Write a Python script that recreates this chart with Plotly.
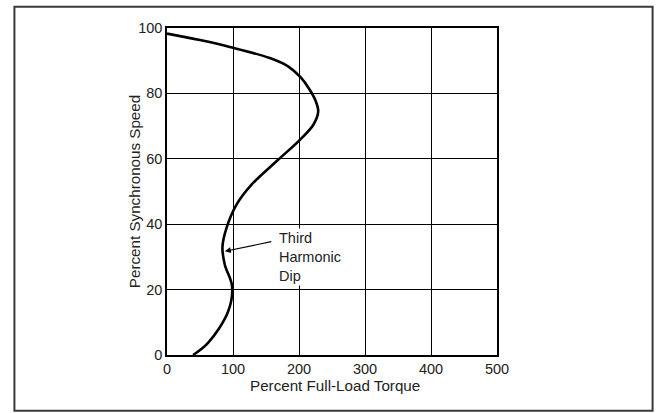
import plotly.graph_objects as go

# Speed-torque curve (torque %, speed %)
torque = [0, 50, 95, 155.8, 184, 203, 216, 225, 229.1, 222, 201.4, 168.4, 128.1,
          105.3, 90.1, 84, 87.6, 98.6, 92.6, 62.2, 39.5]
speed = [98.3, 96.3, 94.2, 90.8, 88.2, 84.8, 81.2, 77.8, 74.5, 70.5, 65.8, 59.7, 52.1,
         46.0, 38.8, 33.0, 27.6, 21.0, 13.3, 3.7, 0]

x_ticks = [0, 100, 200, 300, 400, 500]
y_ticks = [0, 20, 40, 60, 80, 100]
x_title = "Percent Full-Load Torque"
y_title = "Percent Synchronous Speed"
note_text = "Third<br>Harmonic<br>Dip"

FONT = "Liberation Sans, Arial, sans-serif"
TXT = "#222"

fig = go.Figure()
fig.add_trace(go.Scatter(
    x=torque, y=speed, mode="lines",
    line=dict(color="black", width=2.6, shape="spline", smoothing=1.0),
    hoverinfo="skip", showlegend=False,
))

W, H = 658, 413
L, R, T, B = 167.3, 161.3, 28.3, 57.7
pw, ph = W - L - R, H - T - B

fig.update_layout(
    width=W, height=H,
    margin=dict(l=L, r=R, t=T, b=B, pad=0, autoexpand=False),
    paper_bgcolor="white", plot_bgcolor="white",
    font=dict(family=FONT, size=14.5, color=TXT),
    showlegend=False,
)
fig.update_xaxes(
    range=[0, 500], tickvals=x_ticks, ticktext=[str(v) for v in x_ticks],
    showgrid=True, gridcolor="black", gridwidth=1,
    showline=True, linecolor="black", linewidth=1.5, mirror=True,
    zeroline=False, ticks="", tickfont=dict(size=14.5, color=TXT), automargin=False,
)
fig.update_yaxes(
    range=[0, 100], tickvals=y_ticks, ticktext=[str(v) for v in y_ticks],
    showgrid=True, gridcolor="black", gridwidth=1,
    showline=True, linecolor="black", linewidth=1.5, mirror=True,
    zeroline=False, ticks="", tickfont=dict(size=14.5, color=TXT), automargin=False,
)

# axis titles placed as in the reference
fig.add_annotation(x=0.51, y=(H - B - 386) / ph, xref="paper", yref="paper",
                   text=x_title, showarrow=False, xanchor="center", yanchor="middle",
                   font=dict(family=FONT, size=15.2, color=TXT))
fig.add_annotation(x=(135 - L) / pw, y=0.5, xref="paper", yref="paper",
                   text=y_title, showarrow=False, textangle=-90,
                   xanchor="center", yanchor="middle",
                   font=dict(family=FONT, size=15.2, color=TXT))

# text of the callout (white background hides the grid behind it)
fig.add_annotation(
    x=166, y=30, xref="x", yref="y", text=note_text, showarrow=False,
    xanchor="left", yanchor="middle", align="left",
    bgcolor="white", borderpad=1,
    font=dict(family=FONT, size=14.5, color=TXT),
)
# arrow to the dip
fig.add_annotation(
    x=87.6, y=31.7, xref="x", yref="y", text="", showarrow=True,
    ax=48, ay=-10, axref="pixel", ayref="pixel",
    arrowhead=2, arrowsize=1, arrowwidth=1.2, arrowcolor="black", standoff=0,
)

# outer frame around the whole figure
x0 = (15 - L) / pw
x1 = (652 - L) / pw
y0 = (H - B - 411) / ph
y1 = (H - B - 7) / ph
fig.add_shape(type="rect", xref="paper", yref="paper", x0=x0, x1=x1, y0=y0, y1=y1,
              line=dict(color="#3a3a3a", width=2), layer="above")

fig.write_html("out.html", config={"displayModeBar": False},
               post_script="document.body.style.margin='0';")
